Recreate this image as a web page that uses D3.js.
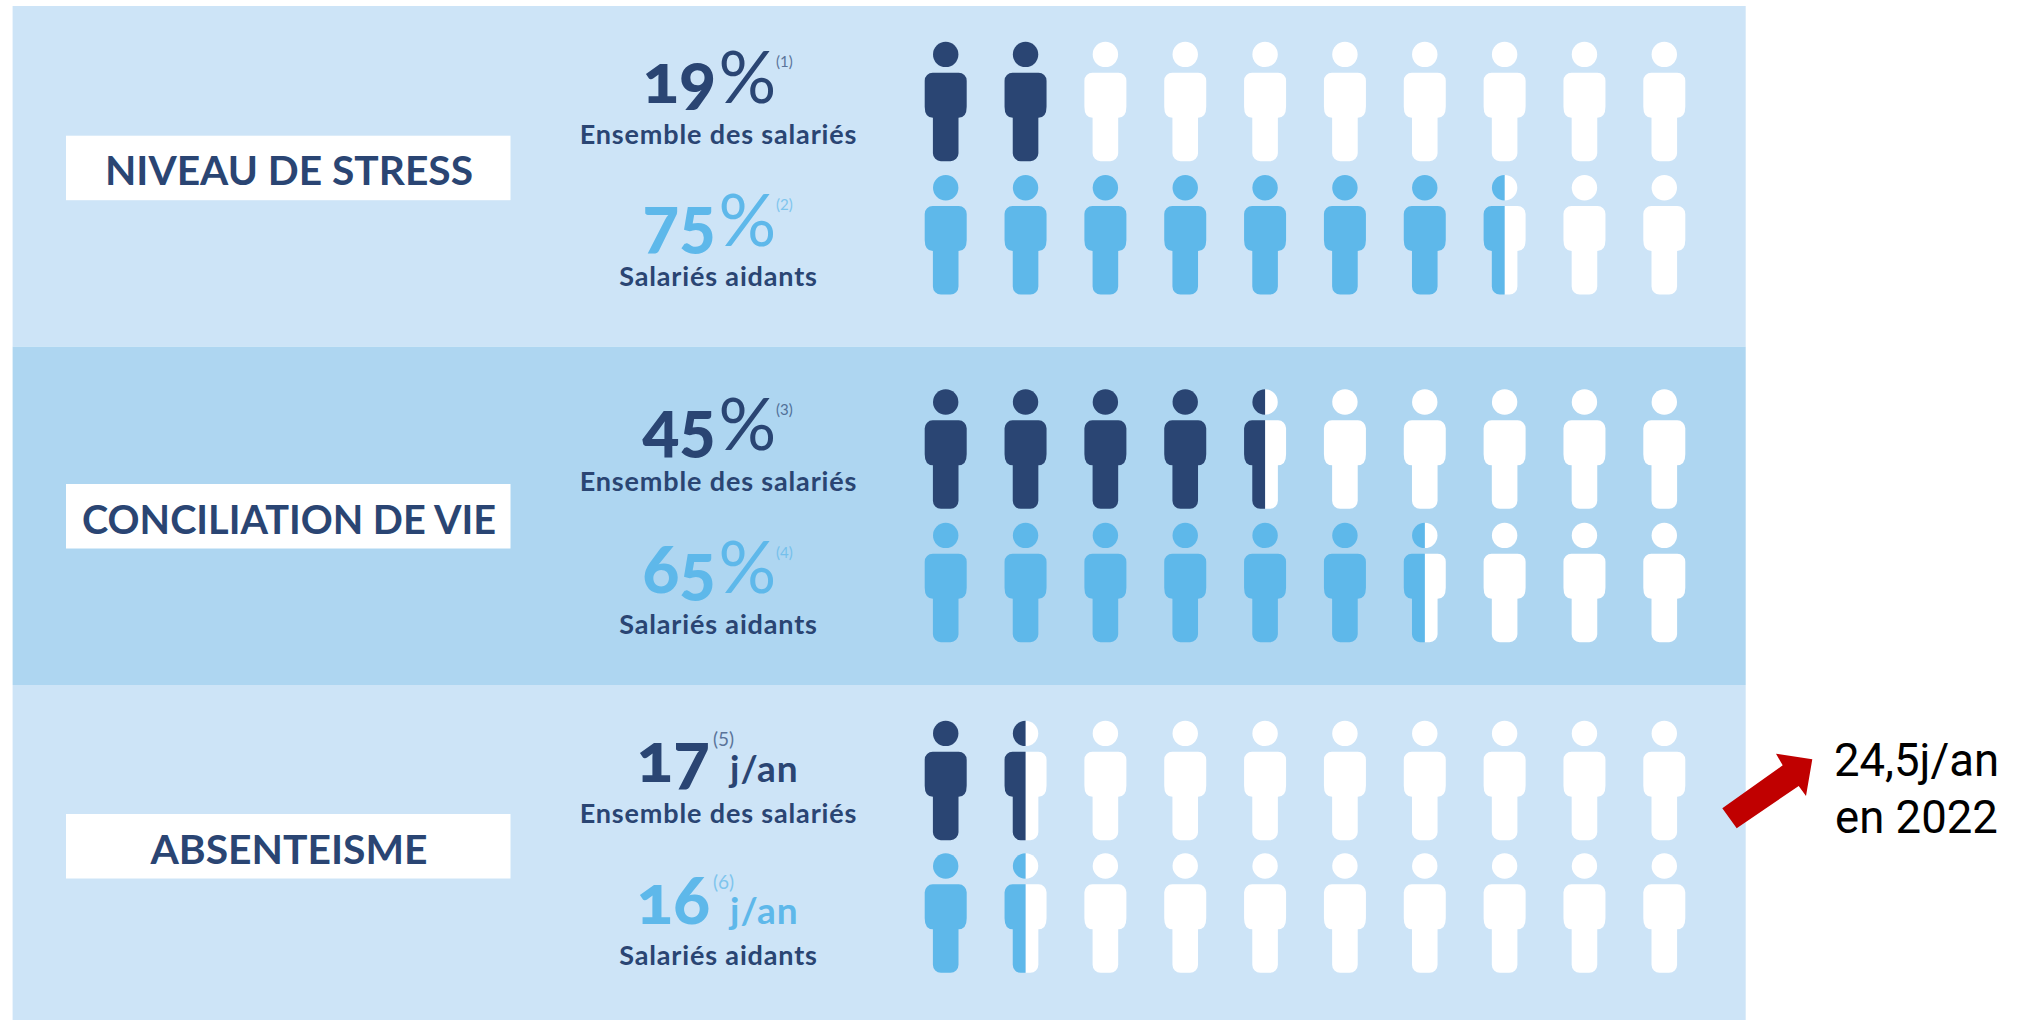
<!DOCTYPE html>
<html lang="fr">
<head>
<meta charset="utf-8">
<title>Salariés aidants</title>
<script src="https://cdn.jsdelivr.net/npm/d3@7"></script>
<style>
  html, body { margin: 0; padding: 0; background: #fff; }
  svg { display: block; }
  text { font-family: Lato, "Open Sans", sans-serif; }
  .big { font-variant-numeric: oldstyle-nums; font-feature-settings: "onum" 1; }
</style>
</head>
<body>
<svg id="chart" width="2029" height="1020"></svg>
<script>
// ── Data ──────────────────────────────────────────────────
const categories = ['NIVEAU DE STRESS', 'CONCILIATION DE VIE', 'ABSENTEISME'];
const groupLabels = ['Ensemble des salariés', 'Salariés aidants'];
const shownValues = ['19', '75', '45', '65', '17', '16'];
const shownUnits = ['%', '%', '%', '%', 'j/an', 'j/an'];
const footnotes = ['(1)', '(2)', '(3)', '(4)', '(5)', '(6)'];
const filledFigures = [2, 7.5, 4.5, 6.5, 1.5, 1.5];   // out of 10 pictograms
const noteLines = ['24,5j/an', 'en 2022'];

// ── Layout ────────────────────────────────────────────────
const DARK = '#2a4573', LIGHT = '#5eb8ea';
const PANEL = '#cde4f7', BAND = '#aed6f1';
const rowTops = [41.7, 175, 389.3, 522.7, 720.7, 853.3];
const bandEdges = [6, 346.7, 685, 1020];
const labelBoxTops = [135.7, 484, 814];
const labelWidths = [368, 414, 277];

const svg = d3.select('#chart');
const x = d3.scaleLinear().domain([0, 9]).range([945.7, 1664.3]);

// ── Background bands ──────────────────────────────────────
svg.selectAll('.band')
  .data(categories)
  .join('rect')
  .attr('class', 'band')
  .attr('x', 12.6)
  .attr('y', (d, i) => bandEdges[i])
  .attr('width', 1745.7 - 12.6)
  .attr('height', (d, i) => bandEdges[i + 1] - bandEdges[i])
  .attr('fill', (d, i) => i === 1 ? BAND : PANEL);

// ── Category labels ───────────────────────────────────────
svg.selectAll('.label-box')
  .data(categories)
  .join('rect')
  .attr('class', 'label-box')
  .attr('x', 66)
  .attr('y', (d, i) => labelBoxTops[i])
  .attr('width', 444.5)
  .attr('height', 64.5)
  .attr('fill', '#fff');

svg.selectAll('.label-text')
  .data(categories)
  .join('text')
  .attr('class', 'label-text')
  .attr('x', 289)
  .attr('y', (d, i) => labelBoxTops[i] + 49.5)
  .attr('text-anchor', 'middle')
  .attr('font-size', 40.5)
  .attr('font-weight', 700)
  .attr('fill', DARK)
  .attr('textLength', (d, i) => labelWidths[i])
  .attr('lengthAdjust', 'spacingAndGlyphs')
  .text(d => d);

// ── Pictogram shape (centred on x = 0, head top on y = 0) ─
function bodyPath() {
  const p = d3.path();
  const w = 21, leg = 12.8, top = 31, hip = 76, foot = 119.5;
  p.moveTo(-w + 8, top);
  p.lineTo(w - 8, top);
  p.arcTo(w, top, w, top + 8, 8);
  p.lineTo(w, hip - 11);
  p.quadraticCurveTo(w, hip, leg, hip);
  p.lineTo(leg, foot - 8);
  p.arcTo(leg, foot, leg - 8, foot, 8);
  p.lineTo(-leg + 8, foot);
  p.arcTo(-leg, foot, -leg, foot - 8, 8);
  p.lineTo(-leg, hip);
  p.quadraticCurveTo(-w, hip, -w, hip - 11);
  p.lineTo(-w, top + 8);
  p.arcTo(-w, top, -w + 8, top, 8);
  p.closePath();
  return p.toString();
}
const BODY = bodyPath();

const defs = svg.append('defs');
defs.append('clipPath').attr('id', 'left-half')
  .append('rect').attr('x', -30).attr('y', -5).attr('width', 30).attr('height', 130);
defs.append('clipPath').attr('id', 'right-half')
  .append('rect').attr('x', 0).attr('y', -5).attr('width', 30).attr('height', 130);

function drawFigure(g, color, clip) {
  const f = g.append('g').attr('fill', color);
  if (clip) f.attr('clip-path', `url(#${clip})`);
  f.append('circle').attr('cy', 12.7).attr('r', 12.7);
  f.append('path').attr('d', BODY);
}

// ── Rows ──────────────────────────────────────────────────
shownValues.forEach((val, r) => {
  const isDark = r % 2 === 0;
  const color = isDark ? DARK : LIGHT;
  const top = rowTops[r];
  const row = svg.append('g').attr('class', 'row');

  d3.range(10).forEach(i => {
    const g = row.append('g').attr('transform', `translate(${x(i)},${top})`);
    const fill = filledFigures[r] - i;
    if (fill >= 1) drawFigure(g, color);
    else if (fill <= 0) drawFigure(g, '#fff');
    else {
      drawFigure(g, '#fff', 'right-half');
      drawFigure(g, color, 'left-half');
    }
  });

  const isDays = shownUnits[r] !== '%';
  const base = top + (isDark ? 61 : 70.7);

  row.append('text')
    .attr('class', 'big')
    .attr('x', isDays ? 636.5 : 642.5)
    .attr('y', base)
    .attr('font-size', 68)
    .attr('font-weight', 900)
    .attr('fill', color)
    .text(val);

  row.append('text')
    .attr('x', isDays ? 730 : 718.5)
    .attr('y', base)
    .attr('font-size', isDays ? 37 : 72)
    .attr('font-weight', isDays ? 700 : 400)
    .attr('letter-spacing', isDays ? 1 : 0)
    .attr('fill', color)
    .text(shownUnits[r]);

  row.append('text')
    .attr('x', isDays ? 713 : 776)
    .attr('y', base - 35.5)
    .attr('font-size', isDays ? 19 : 15)
    .attr('fill', color)
    .attr('opacity', 0.7)
    .text(footnotes[r]);

  row.append('text')
    .attr('x', 718.5)
    .attr('y', top + (isDark ? 102 : 111.3))
    .attr('text-anchor', 'middle')
    .attr('font-size', 27)
    .attr('font-weight', 700)
    .attr('letter-spacing', 0.85)
    .attr('fill', DARK)
    .text(groupLabels[r % 2]);
});

// ── Note on the right ─────────────────────────────────────
const arrow = [[1722.3, 808.3], [1736.7, 828.3], [1798.7, 786], [1806, 796],
  [1812.3, 759.3], [1776, 753.7], [1782.7, 765.3]];
svg.append('polygon')
  .attr('points', arrow.join(' '))
  .attr('fill', '#c00000');

svg.selectAll('.note')
  .data(noteLines)
  .join('text')
  .attr('class', 'note')
  .attr('x', 1916.5)
  .attr('y', (d, i) => 776 + i * 56.7)
  .attr('text-anchor', 'middle')
  .attr('font-size', 45.5)
  .attr('fill', '#000')
  .style('font-family', 'Roboto, sans-serif')
  .text(d => d);
</script>
</body>
</html>
